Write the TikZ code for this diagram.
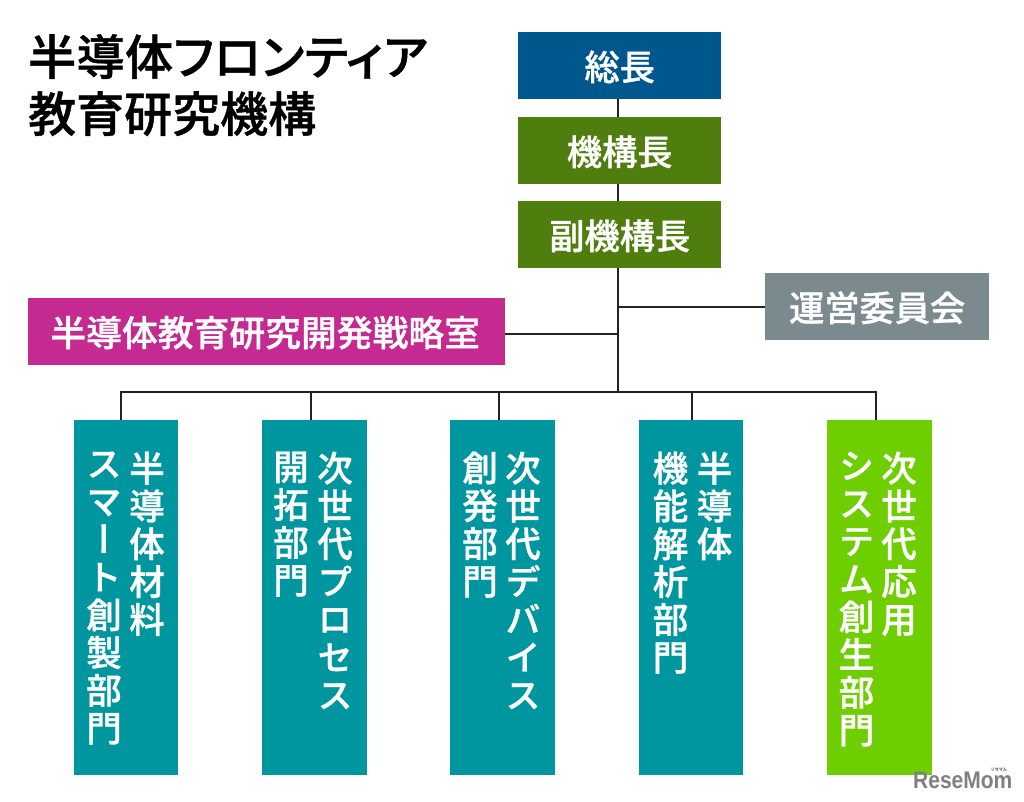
\documentclass[tikz,border=0pt]{standalone}
\usepackage{fontspec}
\newfontfamily\jpfont[FakeBold=0.9]{Noto Sans CJK JP Medium}
\newfontfamily\jpprop[FakeBold=0.9,RawFeature=+palt,LetterSpace=1]{Noto Sans CJK JP Medium}
\newfontfamily\jptate[FakeBold=0.9,RawFeature=+vert]{Noto Sans CJK JP Medium}
\newfontfamily\logofont[FakeStretch=0.875]{Liberation Sans}
\definecolor{souchoblue}{HTML}{00578E}
\definecolor{kikogreen}{HTML}{4F7E0F}
\definecolor{uneigray}{HTML}{7B8A8E}
\definecolor{senryakumag}{HTML}{C42A8F}
\definecolor{buteal}{HTML}{00969F}
\definecolor{bulime}{HTML}{6ECE00}
\definecolor{linedark}{HTML}{222222}
\tikzset{
    boxnode/.style={anchor=north west,inner sep=0pt,text=white,text height=29,text depth=0,
        font=\fontsize{35.2}{37}\selectfont\jpfont},
    kikobox/.style={boxnode,minimum width=203,minimum height=67,fill=kikogreen},
    deptbox/.style={anchor=north west,inner sep=0pt,minimum width=104.5,minimum height=355},
    tatecol/.style={anchor=north,inner sep=0pt,text=white,align=center,
        font=\fontsize{35.5}{37.8}\selectfont\jptate},
    conn/.style={draw=linedark,line width=1.8}
}
\begin{document}
\begin{tikzpicture}[x=1pt,y=-1pt]
    \useasboundingbox (0,0) rectangle (1024,802);

    % Titulo
    \node[anchor=north west,inner sep=0pt,align=left,
        font=\fontsize{48}{57}\selectfont\jpfont] (title) at (28,34)
        {{\jpprop 半導体フロンティア}\\教育研究機構};

    % Cargos
    \node[boxnode,minimum width=203,minimum height=67,fill=souchoblue] (socho) at (518,32) {総長};
    \node[kikobox] (kikocho) at (518,117) {機構長};
    \node[kikobox] (fukucho) at (518,201) {副機構長};
    \node[boxnode,minimum width=224,minimum height=67,fill=uneigray] (unei) at (765,273) {運営委員会};
    \node[boxnode,minimum width=477,minimum height=67,fill=senryakumag,
        font=\fontsize{35.8}{37}\selectfont\jpfont] (senryaku) at (28,298) {半導体教育研究開発戦略室\hspace*{3pt}};

    % Bus
    \coordinate (trunk) at (618.3,392);

    % Departamentos
    \foreach \nm/\bx/\dx/\lx/\rx/\col/\ltxt/\rtxt in {
        dept1/73.5/121/104/147/buteal/{ス\\マ\\ー\\ト\\創\\製\\部\\門}/{半\\導\\体\\材\\料},
        dept2/262/311/291/335/buteal/{開\\拓\\部\\門}/{次\\世\\代\\プ\\ロ\\セ\\ス},
        dept3/450/499/480/523/buteal/{創\\発\\部\\門}/{次\\世\\代\\デ\\バ\\イ\\ス},
        dept4/638.5/692/670.5/714.5/buteal/{機\\能\\解\\析\\部\\門}/{半\\導\\体},
        dept5/827/876/856.5/899/bulime/{シ\\ス\\テ\\ム\\創\\生\\部\\門}/{次\\世\\代\\応\\用}} {
        \node[deptbox,fill=\col] (\nm) at (\bx,420) {};
        \node[tatecol] (\nm-l) at (\lx,451.5) {\ltxt};
        \node[tatecol] (\nm-r) at (\rx,451.5) {\rtxt};
        \coordinate (\nm-bus) at (\dx,392);
        \draw[conn] (\nm-bus) -- (\nm.north -| \nm-bus);
    }

    % Conexiones
    \draw[conn] (socho.south -| trunk) -- (kikocho.north -| trunk);
    \draw[conn] (kikocho.south -| trunk) -- (fukucho.north -| trunk);
    \draw[conn] (fukucho.south -| trunk) -- (trunk);
    \draw[conn] (unei.west) -- (unei.west -| trunk);
    \draw[conn] ([yshift=-2pt]senryaku.east) -- ([yshift=-2pt]senryaku.east -| trunk);
    \draw[conn,line cap=rect] (dept1-bus) -- (dept5-bus);

    % Logo
    \node[anchor=south west,inner sep=0pt,text=gray,
        font=\fontsize{24}{24}\selectfont\bfseries\logofont] (logo) at (913,789) {ReseMom};
    \node[anchor=south east,inner sep=0pt,text=gray,
        font=\fontsize{4}{4}\selectfont\jpfont] (logokana) at (1007,771) {リセマム};
\end{tikzpicture}
\end{document}
